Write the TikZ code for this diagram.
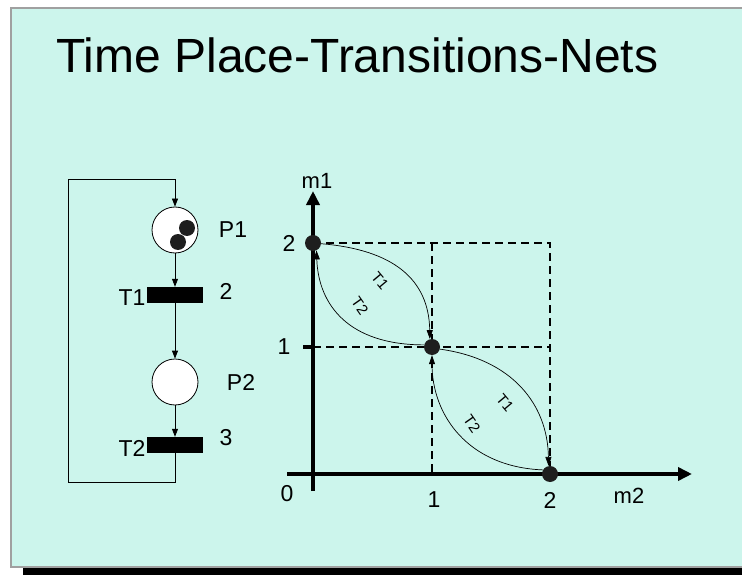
\documentclass[tikz,border=0pt]{standalone}
\usepackage{fontspec}
\setmainfont{Liberation Sans}
\usetikzlibrary{arrows.meta}
\definecolor{slidebg}{RGB}{204,245,236}
\definecolor{slideedge}{RGB}{160,160,160}
\definecolor{dotcol}{RGB}{30,30,30}
\tikzset{
  fs/.style={font=\fontsize{#1}{#1}\selectfont},
  place/.style={circle,draw=black,line width=0.8pt,fill=white,minimum size=46pt,inner sep=0pt},
  trans/.style={rectangle,fill=black,minimum width=56pt,minimum height=16pt,inner sep=0pt},
  token/.style={circle,fill=dotcol,minimum size=16pt,inner sep=0pt},
  state/.style={circle,fill=dotcol,minimum size=16pt,inner sep=0pt},
  arr/.style={line width=0.8pt,-{Triangle[length=8pt,width=6pt]}},
  carr/.style={line width=0.7pt,-{Triangle[length=9pt,width=6pt]}},
  axis/.style={line width=3.5pt,-{Triangle[length=14pt,width=13pt]}},
  grid/.style={line width=1.1pt,dash pattern=on 8pt off 5pt},
  lbl/.style={fs=23,inner sep=0pt},
  small/.style={fs=15,inner sep=0pt},
}
\begin{document}
\begin{tikzpicture}[x=1pt,y=-1pt]
\useasboundingbox (0,0) rectangle (742,575);
\fill[white] (0,0) rectangle (742,575);
% slide
\fill[black] (23,567) rectangle (742,575);
\fill[slidebg] (11,8) rectangle (742,567);
\draw[slideedge,line width=2pt] (742,8) -- (11,8) -- (11,567) -- (742,567);
% title
\node[fs=48,anchor=base west,inner sep=0pt] (title) at (56,73) {Time Place-Transitions-Nets};

% Petri net
\node[place] (P1) at (175,230) {};
\node[token] (k1) at (187,228) {};
\node[token] (k2) at (178,242) {};
\node[trans] (T1) at (175,295) {};
\node[place] (P2) at (175,382) {};
\node[trans] (T2) at (175,445) {};
\node[lbl] (P1l) at (233,230) {P1};
\node[lbl] (P2l) at (241,382) {P2};
\node[lbl] (T1l) at (132,298) {T1};
\node[lbl] (T2l) at (132,448) {T2};
\node[lbl] (d1) at (226,291) {2};
\node[lbl] (d2) at (226,438) {3};
\coordinate (lb) at (68,482);
\coordinate (lt) at (68,179);
\draw[arr] (P1) -- (T1);
\draw[arr] (T1) -- (P2);
\draw[arr] (P2) -- (T2);
\draw[arr] (T2.south) |- (lb) -- (lt) -| (P1.north);

% reachability graph
\coordinate (ob) at (313,491);
\coordinate (ol) at (287,474);
\coordinate (ytip) at (313,191);
\coordinate (xtip) at (692,474);
\coordinate (g1) at (432,474);
\coordinate (g2) at (550,474);
\coordinate (h2) at (550,243);
\coordinate (h1) at (550,347);
\coordinate (t2) at (432,243);
\draw[grid] (313,243) -- (h2) -- (g2);
\draw[grid] (313,347) -- (h1);
\draw[grid] (t2) -- (g1);
\draw[line width=3.5pt] (303,347) -- (313,347);
\draw[axis] (ol) -- (xtip);
\draw[axis] (ob) -- (ytip);
\node[state] (s20) at (313,243) {};
\node[state] (s11) at (432,347) {};
\node[state] (s02) at (550,474) {};
\node[fs=22,inner sep=0pt] (m1) at (317,181) {m1};
\node[fs=22,inner sep=0pt] (m2) at (629,496) {m2};
\node[lbl] (y2) at (289,243) {2};
\node[lbl] (y1) at (284,347) {1};
\node[lbl] (x0) at (287,494) {0};
\node[lbl] (x1) at (434,500) {1};
\node[lbl] (x2) at (550,500) {2};

\draw[carr] (s20.-5) .. controls +(72,6) and +(-1,-60) .. (s11.105);
\draw[carr] (s11.165) .. controls +(-75,0) and +(2,55) .. (s20.-65);
\draw[carr] (s11.-15) .. controls +(72,10) and +(-1,-62) .. (s02.100);
\draw[carr] (s02.150) .. controls +(-75,-3) and +(0,60) .. (s11.-90);
\node[small,rotate=-50] (a1t) at (380,281) {T1};
\node[small,rotate=-55] (a2t) at (360,306) {T2};
\node[small,rotate=-50] (a3t) at (505,403) {T1};
\node[small,rotate=-55] (a4t) at (472,424) {T2};
\end{tikzpicture}
\end{document}
